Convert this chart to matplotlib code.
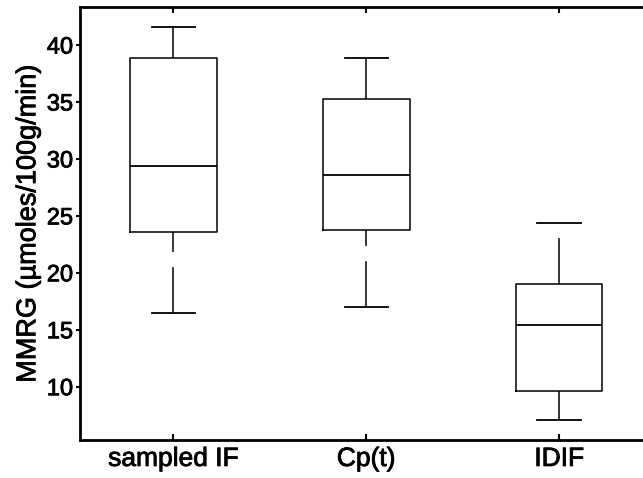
import matplotlib
matplotlib.use("Agg")
import matplotlib.pyplot as plt
import matplotlib.patheffects as pe

plt.rcParams['font.family'] = ['Liberation Sans', 'DejaVu Sans']
plt.rcParams['lines.scale_dashes'] = False

# Box statistics per method (MMRG, µmoles/100g/min)
categories = ["sampled IF", "Cp(t)", "IDIF"]
whisker_low = [16.5, 17.0, 7.1]
quartile_1 = [23.6, 23.8, 9.6]
medians = [29.4, 28.6, 15.4]
quartile_3 = [38.9, 35.3, 19.0]
whisker_high = [41.6, 38.9, 24.4]
y_ticks = [10, 15, 20, 25, 30, 35, 40]

stats = [
    dict(label=c, whislo=lo, q1=a, med=m, q3=b, whishi=hi, fliers=[])
    for c, lo, a, m, b, hi in zip(categories, whisker_low, quartile_1,
                                  medians, quartile_3, whisker_high)
]

fig = plt.figure(figsize=(6.43, 4.78), dpi=100)
ax = fig.add_axes([80 / 643, 38 / 478, 575.5 / 643, 433 / 478])

parts = ax.bxp(
    stats, positions=[1, 2, 3], widths=0.45, showfliers=False,
    boxprops=dict(color='black', linewidth=1.1),
    medianprops=dict(color='black', linewidth=1.3),
    whiskerprops=dict(color='black', linewidth=1.1, linestyle=(0, (33, 11))),
    capprops=dict(color='black', linewidth=1.3),
)

# lower whiskers dash pattern starts at the cap end
for i, w in enumerate(parts['whiskers']):
    if i % 2 == 0:
        x, y = w.get_data()
        w.set_data(list(x)[::-1], list(y)[::-1])

ax.set_xlim(0.516, 3.5)
ax.set_ylim(5.32, 43.34)
ax.set_yticks(y_ticks)
ax.set_xticks([1, 2, 3])
ax.set_xticklabels(categories)
ax.set_ylabel("MMRG (µmoles/100g/min)", fontsize=19.5, labelpad=4)

for s in ax.spines.values():
    s.set_linewidth(2.0)
ax.spines['right'].set_visible(False)

ax.tick_params(axis='x', direction='in', length=4, width=1.5, top=True,
               labelsize=19, pad=5)
ax.tick_params(axis='y', direction='out', length=3, width=1.5,
               labelsize=17, pad=2)

# slightly heavier text strokes
heavy = [pe.withStroke(linewidth=0.6, foreground='black')]
for t in ax.get_xticklabels() + ax.get_yticklabels() + [ax.yaxis.label]:
    t.set_path_effects(heavy)

fig.savefig("out.png", dpi=100)
